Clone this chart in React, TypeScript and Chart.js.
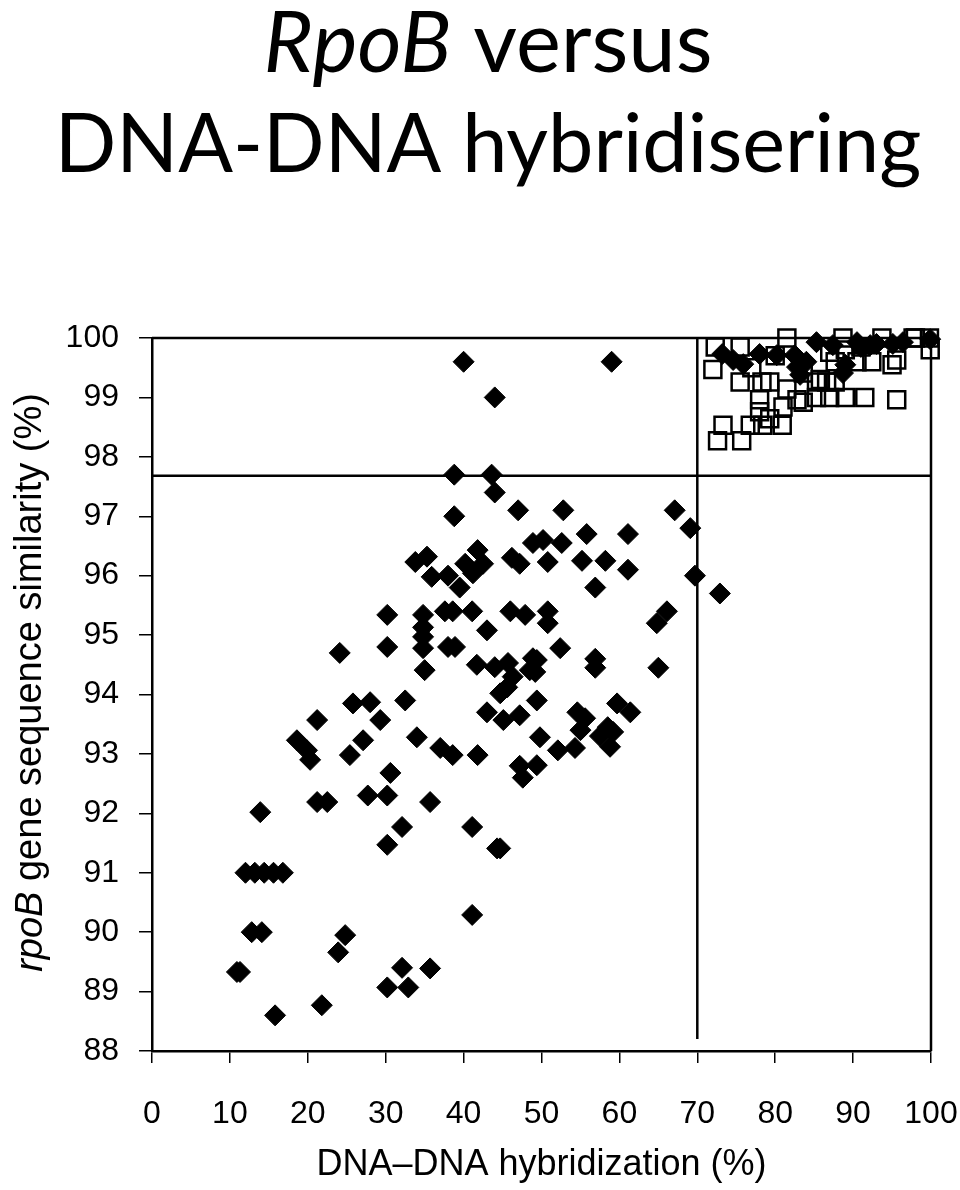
import React, { useEffect, useRef } from 'react';
import { Chart, registerables } from 'chart.js';

Chart.register(...registerables);

// ---- Text ----
const TITLE_LINE1_ITALIC = 'RpoB';
const TITLE_LINE1_REST = ' versus';
const TITLE_LINE2 = 'DNA-DNA hybridisering';
const X_TITLE = 'DNA–DNA hybridization (%)';
const Y_TITLE_ITALIC = 'rpoB';
const Y_TITLE_REST = ' gene sequence similarity (%)';

// ---- Axes ----
const X_MIN = 0;
const X_MAX = 100;
const X_STEP = 10;
const Y_MIN = 88;
const Y_MAX = 100;
const Y_STEP = 1;

// ---- Thresholds ----
const DDH_THRESHOLD = 70;
const RPOB_THRESHOLD = 97.68;
const VLINE_Y = [100, 88.2];
const HLINE_X = [0, 100];

// ---- Data: filled diamonds (DDH %, rpoB %) ----
const diamondDDH = [
  40, 44, 59,
  38.8, 43.6, 44, 47, 38.8, 52.8, 67.1, 69.1,
  55.8, 61.1, 52.6, 50.2, 48.9,
  33.8, 35.3, 35.9, 38, 39.5, 40.2, 41.8, 42.5, 41.2, 46.2, 47.2, 50.8, 55.2, 58.2, 61.1, 69.7, 72.9, 56.9,
  30.2, 34.8, 37.6, 38.6, 41.1, 43, 46, 47.9, 50.8, 50.8, 64.8, 66.1,
  34.8, 34.8, 34.8, 30.2, 24.1, 38, 38.9, 52.4, 49.4, 49.2, 56.9, 56.9, 65,
  35, 41.7, 44, 45.7, 46.3, 45.6, 44.7, 48.9, 48.5,
  25.8, 28, 29.3, 32.5, 21.2, 43, 45.1, 47.2, 49.4, 54.6, 55.6, 55, 54.3, 59.7, 61.4, 58.5, 57.5, 59.2, 58.8, 49.8, 52.1, 49.4,
  27.1, 18.6, 19.9, 20.3, 25.4, 34, 37, 38.6, 41.8, 47.2, 47.6, 30.6,
  13.9, 21.2, 22.5, 27.7, 30.2, 35.7, 32.1, 30.2, 41.1, 44.3, 44.7,
  12, 13.2, 14.4, 15.6, 16.8,
  41.1, 12.8, 14.1, 24.8, 23.9, 10.9, 11.3, 15.8, 21.8, 32.1, 32.9, 30.2, 35.7,
  73.2, 74.6, 75.9, 78, 80.2, 82.5, 82.8, 83.2, 84, 85.3, 87.4, 88.7, 89, 90.5, 91, 92.2, 93, 95.1, 96.4, 99.9,
];
const diamondRpoB = [
  99.6, 99.0, 99.6,
  97.7, 97.7, 97.4, 97.1, 97.0, 97.1, 97.1, 96.8,
  96.7, 96.7, 96.55, 96.6, 96.55,
  96.23, 96.32, 95.98, 96.0, 95.8, 96.2, 96.43, 96.2, 96.04, 96.3, 96.2, 96.23, 96.25, 96.25, 96.1, 96.0, 95.7, 95.8,
  95.34, 95.34, 95.4, 95.4, 95.4, 95.08, 95.4, 95.34, 95.4, 95.2, 95.2, 95.4,
  95.13, 94.97, 94.78, 94.8, 94.7, 94.8, 94.8, 94.78, 94.58, 94.38, 94.6, 94.45, 94.45,
  94.41, 94.5, 94.46, 94.53, 94.3, 94.12, 94.02, 94.61, 94.41,
  93.85, 93.87, 93.57, 93.9, 93.57, 93.7, 93.57, 93.65, 93.9, 93.7, 93.6, 93.4, 93.1, 93.85, 93.7, 93.45, 93.3, 93.37, 93.12, 93.28, 93.06, 92.81,
  93.23, 93.23, 93.06, 92.9, 92.98, 93.28, 93.1, 92.98, 92.98, 92.8, 92.6, 92.68,
  92.02, 92.19, 92.19, 92.3, 92.3, 92.19, 91.77, 91.47, 91.77, 91.41, 91.41,
  91, 91, 91, 91, 91,
  90.29, 90, 90, 89.95, 89.66, 89.33, 89.33, 88.6, 88.77, 89.4, 89.07, 89.07, 89.39,
  99.73, 99.63, 99.56, 99.73, 99.71, 99.71, 99.51, 99.38, 99.6, 99.93, 99.88, 99.41, 99.55, 99.93, 99.85, 99.88, 99.9, 99.9, 99.93, 99.98,
];

// ---- Data: open squares (DDH %, rpoB %) ----
const squareDDH = [
  72.3, 72, 72.6, 75.7, 73.3, 76.8, 78.4, 80.9, 75.5, 75.5, 78.3, 79.3, 78, 78, 79.3, 81, 81.5, 81.5,
  82.8, 83.6, 83.6, 85.3, 85.3, 86.6, 87.7, 87, 87.7, 87, 89, 89, 88.7, 91.5, 92.4, 93.7, 95, 95.6,
  95.6, 97.7, 98, 99.8, 99.9, 85.8, 90.5, 91, 80, 77,
];
const squareRpoB = [
  99.85, 99.47, 98.27, 98.27, 98.53, 98.53, 98.53, 98.53, 99.85, 99.26, 99.26, 99.26, 98.96, 98.76, 98.64, 98.84, 100, 99.14,
  98.96, 99.41, 98.92, 99.26, 99.0, 99.26, 99.26, 99.0, 99.6, 99.76, 99.8, 99.0, 100, 99.0, 99.6, 100, 99.55, 98.96,
  99.63, 100, 100, 100, 99.8, 99.3, 99.6, 99.85, 99.7, 99.5,
];

const TICK_FONT = 'Liberation Sans';
const TITLE_FONT = 'Lato';

const pairs = (xs: number[], ys: number[]) => xs.map((x, i) => ({ x, y: ys[i] }));

const decorPlugin = {
  id: 'decor',
  afterDatasetsDraw(chart: any) {
    const { ctx, chartArea } = chart;
    ctx.save();
    ctx.strokeStyle = '#000';
    ctx.lineWidth = 2.5;
    ctx.beginPath();
    ctx.moveTo(chartArea.left, chartArea.top);
    ctx.lineTo(chartArea.right, chartArea.top);
    ctx.lineTo(chartArea.right, chartArea.bottom);
    ctx.stroke();
    ctx.restore();
  },
  afterDraw(chart: any) {
    const { ctx, chartArea } = chart;
    ctx.save();
    ctx.fillStyle = '#000';
    // Title
    const cx = 488;
    ctx.textBaseline = 'alphabetic';
    ctx.textAlign = 'left';
    const t1Size = 85;
    ctx.font = `italic ${t1Size}px ${TITLE_FONT}`;
    const wI = ctx.measureText(TITLE_LINE1_ITALIC).width;
    ctx.font = `${t1Size}px ${TITLE_FONT}`;
    const wR = ctx.measureText(TITLE_LINE1_REST).width;
    const x0 = cx - (wI + wR) / 2;
    ctx.font = `italic ${t1Size}px ${TITLE_FONT}`;
    ctx.fillText(TITLE_LINE1_ITALIC, x0, 72);
    ctx.font = `${t1Size}px ${TITLE_FONT}`;
    ctx.fillText(TITLE_LINE1_REST, x0 + wI, 72);
    ctx.textAlign = 'center';
    ctx.font = `81px ${TITLE_FONT}`;
    ctx.fillText(TITLE_LINE2, cx, 172);

    // Y axis title
    const ySize = 38;
    ctx.translate(31, (chartArea.top + chartArea.bottom) / 2 - 12);
    ctx.rotate(-Math.PI / 2);
    ctx.textAlign = 'left';
    ctx.textBaseline = 'middle';
    ctx.font = `italic ${ySize}px ${TICK_FONT}`;
    const yI = ctx.measureText(Y_TITLE_ITALIC).width;
    ctx.font = `${ySize}px ${TICK_FONT}`;
    const yR = ctx.measureText(Y_TITLE_REST).width;
    const start = -(yI + yR) / 2;
    ctx.font = `italic ${ySize}px ${TICK_FONT}`;
    ctx.fillText(Y_TITLE_ITALIC, start, 0);
    ctx.font = `${ySize}px ${TICK_FONT}`;
    ctx.fillText(Y_TITLE_REST, start + yI, 0);
    ctx.restore();
  },
};

export default function App() {
  const ref = useRef<HTMLCanvasElement | null>(null);

  useEffect(() => {
    if (!ref.current) return;
    const chart = new Chart(ref.current, {
      type: 'scatter',
      data: {
        datasets: [
          {
            label: 'diamonds',
            data: pairs(diamondDDH, diamondRpoB),
            pointStyle: 'rectRot',
            pointRadius: 10.5,
            backgroundColor: '#000',
            borderColor: '#000',
            borderWidth: 1,
            clip: false,
          } as any,
          {
            label: 'squares',
            data: pairs(squareDDH, squareRpoB),
            pointStyle: 'rect',
            pointRadius: 12,
            backgroundColor: 'rgba(0,0,0,0)',
            borderColor: '#000',
            borderWidth: 2.5,
            clip: false,
          } as any,
          {
            label: 'ddh threshold',
            data: VLINE_Y.map((y) => ({ x: DDH_THRESHOLD, y })),
            showLine: true,
            pointRadius: 0,
            borderColor: '#000',
            borderWidth: 2.5,
            clip: false,
          } as any,
          {
            label: 'rpoB threshold',
            data: HLINE_X.map((x) => ({ x, y: RPOB_THRESHOLD })),
            showLine: true,
            pointRadius: 0,
            borderColor: '#000',
            borderWidth: 2.5,
            clip: false,
          } as any,
        ],
      },
      options: {
        animation: false,
        responsive: false,
        events: [],
        layout: { padding: { top: 338, right: 29, left: 0, bottom: 0 } },
        plugins: {
          legend: { display: false },
          tooltip: { enabled: false },
        },
        scales: {
          x: {
            type: 'linear',
            min: X_MIN,
            max: X_MAX,
            ticks: {
              stepSize: X_STEP,
              color: '#000',
              padding: 32,
              maxRotation: 0,
              font: { family: TICK_FONT, size: 32 },
            },
            grid: {
              drawOnChartArea: false,
              drawTicks: true,
              tickLength: 12,
              color: '#000',
              lineWidth: 1.5,
            },
            border: { color: '#000', width: 2.5 },
            title: {
              display: true,
              text: X_TITLE,
              color: '#000',
              font: { family: TICK_FONT, size: 36 },
              padding: { top: 0, bottom: 3 },
            },
            afterFit: (s: any) => {
              s.height = 139;
              s.paddingLeft = 0;
              s.paddingRight = 0;
            },
          },
          y: {
            type: 'linear',
            min: Y_MIN,
            max: Y_MAX,
            ticks: {
              stepSize: Y_STEP,
              color: '#000',
              padding: 20,
              font: { family: TICK_FONT, size: 32 },
            },
            grid: {
              drawOnChartArea: false,
              drawTicks: true,
              tickLength: 13,
              color: '#000',
              lineWidth: 1.5,
            },
            border: { color: '#000', width: 2.5 },
            afterFit: (s: any) => {
              s.width = 152;
              s.paddingTop = 0;
              s.paddingBottom = 0;
            },
          },
        },
      } as any,
      plugins: [decorPlugin],
    });
    return () => chart.destroy();
  }, []);

  return (
    <div style={{ position: 'absolute', left: 0, top: 0, width: 960, height: 1190, background: '#fff' }}>
      <canvas ref={ref} width={960} height={1190} style={{ width: 960, height: 1190, display: 'block' }} />
    </div>
  );
}
